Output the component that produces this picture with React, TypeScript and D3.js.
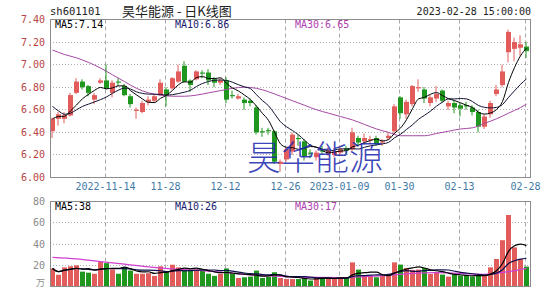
import React from 'react';
import * as d3 from 'd3';

// Trading days, Nov 2022 - Feb 2023
const novDays = [1, 2, 3, 4, 7, 8, 9, 10, 11, 14, 15, 16, 17, 18, 21, 22, 23, 24, 25, 28, 29, 30];
const decDays = [1, 2, 5, 6, 7, 8, 9, 12, 13, 14, 15, 16, 19, 20, 21, 22, 23, 26, 27, 28, 29, 30];
const janDays = [3, 4, 5, 6, 9, 10, 11, 12, 13, 16, 17, 18, 19, 20, 30, 31];
const febDays = [1, 2, 3, 6, 7, 8, 9, 10, 13, 14, 15, 16, 17, 20, 21, 22, 23, 24, 27, 28];

const pad = (n: number) => String(n).padStart(2, '0');
const dates: string[] = [
  ...novDays.map((d) => `2022-11-${pad(d)}`),
  ...decDays.map((d) => `2022-12-${pad(d)}`),
  ...janDays.map((d) => `2023-01-${pad(d)}`),
  ...febDays.map((d) => `2023-02-${pad(d)}`),
];

const tickDates = ['2022-11-14', '2022-11-28', '2022-12-12', '2022-12-26', '2023-01-09', '2023-01-30', '2023-02-13', '2023-02-28'];
const tickLabels = ['2022-11-14', '11-28', '12-12', '12-26', '2023-01-09', '01-30', '02-13', '02-28'];

const opens = [
  6.41, 6.52, 6.52, 6.55, 6.75, 6.85, 6.81, 6.69, 6.84, 6.86,
  6.75, 6.85, 6.81, 6.72, 6.59, 6.58, 6.67, 6.68, 6.73, 6.78,
  6.79, 6.85, 6.99, 6.86, 6.87, 6.93, 6.93, 6.87, 6.84, 6.86,
  6.73, 6.70, 6.69, 6.68, 6.62, 6.41, 6.42, 6.41, 6.12, 6.16,
  6.23, 6.35, 6.32, 6.22, 6.18, 6.24, 6.21, 6.20, 6.22, 6.26,
  6.25, 6.35, 6.32, 6.33, 6.35, 6.31, 6.35, 6.41, 6.71, 6.56,
  6.65, 6.79, 6.78, 6.66, 6.70, 6.77, 6.63, 6.66, 6.64, 6.64,
  6.62, 6.58, 6.45, 6.56, 6.74, 6.82, 7.11, 7.14, 7.15, 7.16,
];
const highs = [
  6.53, 6.58, 6.58, 6.75, 6.88, 6.87, 6.82, 6.75, 6.88, 7.00,
  6.86, 6.88, 6.83, 6.74, 6.62, 6.68, 6.72, 6.74, 6.87, 6.80,
  6.89, 7.00, 7.03, 6.87, 6.95, 6.95, 6.96, 6.89, 6.88, 6.89,
  6.77, 6.74, 6.71, 6.70, 6.64, 6.44, 6.44, 6.42, 6.16, 6.27,
  6.40, 6.38, 6.34, 6.25, 6.24, 6.28, 6.27, 6.26, 6.28, 6.28,
  6.44, 6.37, 6.39, 6.37, 6.37, 6.34, 6.40, 6.65, 6.72, 6.69,
  6.82, 6.87, 6.80, 6.73, 6.81, 6.78, 6.68, 6.68, 6.66, 6.67,
  6.64, 6.60, 6.56, 6.68, 6.82, 7.00, 7.31, 7.24, 7.26, 7.20,
];
const lows = [
  6.35, 6.46, 6.48, 6.54, 6.74, 6.78, 6.72, 6.65, 6.83, 6.78,
  6.71, 6.81, 6.72, 6.62, 6.52, 6.57, 6.64, 6.66, 6.72, 6.63,
  6.78, 6.84, 6.84, 6.76, 6.86, 6.88, 6.82, 6.80, 6.82, 6.66,
  6.70, 6.69, 6.60, 6.63, 6.38, 6.36, 6.38, 6.12, 6.05, 6.14,
  6.20, 6.28, 6.15, 6.17, 6.15, 6.20, 6.19, 6.18, 6.20, 6.21,
  6.23, 6.28, 6.29, 6.30, 6.28, 6.28, 6.33, 6.38, 6.52, 6.52,
  6.63, 6.76, 6.66, 6.63, 6.67, 6.66, 6.60, 6.57, 6.54, 6.60,
  6.55, 6.40, 6.43, 6.53, 6.72, 6.80, 7.02, 7.03, 7.08, 7.06,
];
const closes = [
  6.52, 6.56, 6.55, 6.73, 6.85, 6.80, 6.75, 6.73, 6.86, 6.79,
  6.84, 6.84, 6.73, 6.65, 6.60, 6.66, 6.69, 6.72, 6.84, 6.73,
  6.88, 6.94, 6.85, 6.82, 6.94, 6.92, 6.86, 6.84, 6.86, 6.69,
  6.72, 6.72, 6.66, 6.66, 6.40, 6.40, 6.41, 6.14, 6.14, 6.25,
  6.38, 6.34, 6.19, 6.21, 6.22, 6.23, 6.24, 6.23, 6.25, 6.24,
  6.40, 6.31, 6.35, 6.34, 6.30, 6.32, 6.37, 6.63, 6.57, 6.67,
  6.81, 6.80, 6.70, 6.71, 6.74, 6.68, 6.66, 6.62, 6.61, 6.63,
  6.58, 6.45, 6.54, 6.66, 6.78, 6.94, 7.29, 7.20, 7.18, 7.12,
];
// Volume, 10k lots
const volumes = [
  17, 11, 18, 19, 20, 14, 13, 12, 23, 22,
  16, 12, 18, 15, 12, 12, 12.5, 10, 19, 13,
  20.5, 18, 16, 16, 16, 15, 12, 10, 12, 17,
  12.5, 8, 8.7, 9.3, 15, 8, 9, 13.4, 8, 7,
  7, 7, 8.7, 5.6, 8, 8.7, 8, 8, 8, 8,
  22.7, 15.9, 10.3, 10.3, 8.7, 10.3, 11.2, 22.7, 20.6, 17.4,
  15.6, 15.9, 17.4, 11.8, 13.4, 11.2, 9.3, 11.2, 10.3, 10.3,
  9.3, 10.3, 10.3, 18, 25.9, 43.6, 67.3, 36.8, 25.9, 18.7,
];

// First MA10 values (window starts before Nov 1)
const priceMa10Head = [6.63, 6.59, 6.56, 6.57, 6.6, 6.63, 6.65, 6.67, 6.69];
// MA30 of price, sampled at these day indices
const priceMa30Idx = [0, 2, 4, 6, 8, 10, 12, 14, 16, 18, 20, 22, 24, 26, 28, 30, 32, 34, 36, 38, 40, 42, 44, 46, 48, 50, 52, 54, 56, 58, 60, 62, 64, 66, 68, 70, 72, 74, 76, 78, 79];
const priceMa30Vals = [7.13, 7.09, 7.06, 7.02, 6.97, 6.91, 6.85, 6.79, 6.75, 6.73, 6.72, 6.72, 6.73, 6.75, 6.77, 6.79, 6.8, 6.79, 6.76, 6.72, 6.68, 6.64, 6.6, 6.57, 6.54, 6.51, 6.47, 6.43, 6.4, 6.37, 6.37, 6.37, 6.39, 6.41, 6.43, 6.44, 6.48, 6.52, 6.57, 6.62, 6.65];
// MA30 of volume, sampled at these day indices
const volMa30Idx = [0, 4, 8, 12, 16, 20, 24, 28, 32, 36, 40, 44, 48, 52, 56, 60, 64, 68, 72, 76, 79];
const volMa30Vals = [27.5, 26, 23.5, 21, 18.5, 16.5, 15.5, 13.5, 11.5, 10, 9, 8.5, 8.3, 9.3, 10.5, 12.3, 13, 12.3, 11.5, 14, 17];

const priceTicks = [7.4, 7.2, 7.0, 6.8, 6.6, 6.4, 6.2, 6.0];
const volTicks = [80, 60, 40, 20];

const UP = '#e25c5c';
const DOWN = '#1f971f';
const MONO = '"DejaVu Sans Mono", "Liberation Mono", monospace';
const CJK = '"Noto Sans CJK SC", sans-serif';

function movingAvg(vals: number[], n: number, head?: number[]) {
  return vals.map((_, i) => {
    if (i < n - 1) {
      if (head && head[i] != null) return head[i];
      return d3.mean(vals.slice(0, i + 1)) as number;
    }
    return d3.mean(vals.slice(i - n + 1, i + 1)) as number;
  });
}

export default function App() {
  const W = 545;
  const H = 288;
  const left = 50;
  const right = 530;
  const pTop = 19.5;
  const pBot = 177.5;
  const vTop = 201.5;
  const vBot = 286.5;

  const idx = dates.map((_, i) => i);
  const x = d3.scaleBand<number>().domain(idx).range([49, 529]).paddingInner(0);
  const cx = (i: number) => (x(i) as number) + 3.5;
  const yP = d3.scaleLinear().domain([6.0, 7.4]).range([pBot, pTop]);
  const yV = d3.scaleLinear().domain([0, 80]).range([vBot, vTop]);

  const ma5 = movingAvg(closes, 5);
  const ma10 = movingAvg(closes, 10, priceMa10Head);
  const vma5 = movingAvg(volumes, 5);
  const vma10 = movingAvg(volumes, 10);

  const priceLine = d3
    .line<number>()
    .x((_, i) => cx(i))
    .y((d) => yP(d))
    .curve(d3.curveMonotoneX);
  const volLine = d3
    .line<number>()
    .x((_, i) => cx(i))
    .y((d) => yV(d))
    .curve(d3.curveMonotoneX);
  const sampledPrice = d3
    .line<[number, number]>()
    .x((d) => cx(d[0]))
    .y((d) => yP(d[1]))
    .curve(d3.curveMonotoneX);
  const sampledVol = d3
    .line<[number, number]>()
    .x((d) => cx(d[0]))
    .y((d) => yV(d[1]))
    .curve(d3.curveMonotoneX);

  const tickIdx = tickDates.map((d) => dates.indexOf(d));
  const gridX = (i: number) => (x(i) as number) + 2.5;

  const crisp = (v: number) => Math.round(v - 0.5) + 0.5;

  return (
    <svg
      width={W}
      height={H}
      style={{ position: 'absolute', left: 0, top: 0, background: '#fff' }}
    >
      <rect x={0} y={0} width={W} height={H} fill="#fff" />

      {/* header */}
      <text x={50} y={15} fontFamily={MONO} fontSize={10.5} fill="#222">
        sh601101
      </text>
      <text x={122} y={16} fontFamily={CJK} fontSize={13} fill="#222">
        昊华能源 - 日K线图
      </text>
      <text x={531} y={15} fontFamily={MONO} fontSize={10} fill="#222" textAnchor="end">
        2023-02-28 15:00:00
      </text>

      {/* price panel grid */}
      {priceTicks.slice(1, -1).map((t) => (
        <line
          key={`pg${t}`}
          x1={left}
          x2={right}
          y1={crisp(yP(t))}
          y2={crisp(yP(t))}
          stroke="#b0b0b0"
          strokeDasharray="1,2"
        />
      ))}
      {tickIdx.map((i) => (
        <line
          key={`pv${i}`}
          x1={gridX(i)}
          x2={gridX(i)}
          y1={pTop}
          y2={pBot}
          stroke="#a8a8a8"
          strokeDasharray="4,3"
        />
      ))}
      {priceTicks.map((t) => (
        <text
          key={`pl${t}`}
          x={45}
          y={yP(t)}
          dy="0.35em"
          textAnchor="end"
          fontFamily={MONO}
          fontSize={10}
          fill="#b84444"
        >
          {t.toFixed(2)}
        </text>
      ))}

      {/* candles */}
      {idx.map((i) => {
        const o = opens[i];
        const c = closes[i];
        const up = c >= o;
        const col = up ? UP : DOWN;
        const top = yP(Math.max(o, c));
        const bot = yP(Math.min(o, c));
        const xc = cx(i) - 0.5;
        return (
          <g key={`c${i}`}>
            <line x1={xc} x2={xc} y1={yP(highs[i])} y2={yP(lows[i])} stroke={col} strokeWidth={1} />
            <rect
              x={(x(i) as number) + 1}
              y={top}
              width={5}
              height={Math.max(1, bot - top)}
              fill={col}
            />
          </g>
        );
      })}

      {/* moving averages */}
      <path d={sampledPrice(priceMa30Idx.map((k, j) => [k, priceMa30Vals[j]] as [number, number])) || ''} fill="none" stroke="#a448a4" strokeWidth={1} />
      <path d={priceLine(ma10) || ''} fill="none" stroke="#101030" strokeWidth={1} />
      <path d={priceLine(ma5) || ''} fill="none" stroke="#000" strokeWidth={1} />

      {/* watermark */}
      <text x={247} y={170} fontFamily={CJK} fontSize={34} fontWeight={300} fill="#1f2db0" fillOpacity={0.88}>
        昊华能源
      </text>

      <rect x={left + 0.5} y={pTop} width={right - left} height={pBot - pTop} fill="none" stroke="#8c8c8c" />

      <text x={55} y={28} fontFamily={MONO} fontSize={10} fill="#000">MA5:7.14</text>
      <text x={175} y={28} fontFamily={MONO} fontSize={10} fill="#1a1a70">MA10:6.86</text>
      <text x={295} y={28} fontFamily={MONO} fontSize={10} fill="#b040b0">MA30:6.65</text>

      {/* date axis */}
      {tickIdx.map((i, j) => (
        <text
          key={`dl${i}`}
          x={gridX(i)}
          y={190}
          textAnchor="middle"
          fontFamily={MONO}
          fontSize={10}
          fill="#3f7aa6"
        >
          {tickLabels[j]}
        </text>
      ))}

      {/* volume panel grid */}
      {volTicks.slice(1).map((t) => (
        <line
          key={`vg${t}`}
          x1={left}
          x2={right}
          y1={crisp(yV(t))}
          y2={crisp(yV(t))}
          stroke="#b0b0b0"
          strokeDasharray="1,2"
        />
      ))}
      {tickIdx.map((i) => (
        <line
          key={`vv${i}`}
          x1={gridX(i)}
          x2={gridX(i)}
          y1={vTop}
          y2={vBot}
          stroke="#a8a8a8"
          strokeDasharray="4,3"
        />
      ))}
      {volTicks.map((t) => (
        <text
          key={`vl${t}`}
          x={45}
          y={yV(t)}
          dy="0.35em"
          textAnchor="end"
          fontFamily={MONO}
          fontSize={10}
          fill="#8a8a8a"
        >
          {t}
        </text>
      ))}
      <text x={45} y={286} textAnchor="end" fontFamily={CJK} fontSize={9} fill="#8a8a8a">万</text>

      {/* volume bars */}
      {idx.map((i) => {
        const up = closes[i] >= opens[i];
        const y0 = yV(volumes[i]);
        return (
          <rect
            key={`v${i}`}
            x={(x(i) as number) + 1}
            y={y0}
            width={5}
            height={vBot - y0}
            fill={up ? UP : DOWN}
          />
        );
      })}

      <path d={sampledVol(volMa30Idx.map((k, j) => [k, volMa30Vals[j]] as [number, number])) || ''} fill="none" stroke="#d040d0" strokeWidth={1.2} />
      <path d={volLine(vma10) || ''} fill="none" stroke="#101050" strokeWidth={1.2} />
      <path d={volLine(vma5) || ''} fill="none" stroke="#000" strokeWidth={1.2} />

      <rect x={left + 0.5} y={vTop} width={right - left} height={vBot - vTop} fill="none" stroke="#8c8c8c" />

      <text x={55} y={210} fontFamily={MONO} fontSize={10} fill="#000">MA5:38</text>
      <text x={175} y={210} fontFamily={MONO} fontSize={10} fill="#1a1a70">MA10:26</text>
      <text x={295} y={210} fontFamily={MONO} fontSize={10} fill="#b040b0">MA30:17</text>
    </svg>
  );
}
